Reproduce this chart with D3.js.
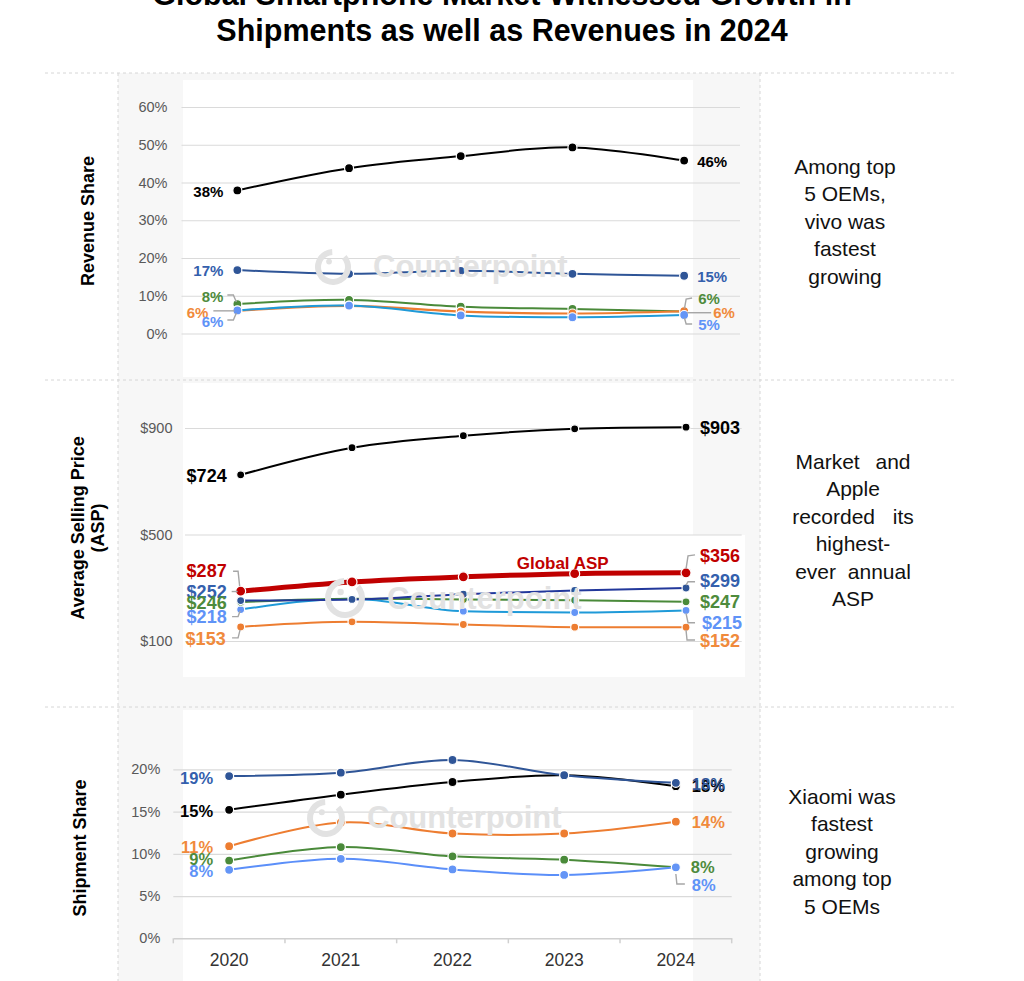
<!DOCTYPE html>
<html><head><meta charset="utf-8">
<script src="https://cdn.jsdelivr.net/npm/d3@7"></script>
<style>
body{margin:0;background:#fff}
svg{display:block;font-family:"Liberation Sans",Arial,sans-serif}
</style>
</head><body>
<svg id="c" width="1024" height="981"></svg>
<script>
// ---------------- DATA ----------------
const years = ["2020","2021","2022","2023","2024"];

// Revenue share (%)
const revApple   = [37.9, 43.8, 47.0, 49.3, 45.8];
const revSamsung = [16.8, 15.8, 16.6, 15.8, 15.3];
const revOppo    = [7.8, 8.9, 7.1, 6.5, 5.8];
const revXiaomi  = [6.0, 7.3, 5.8, 5.3, 5.9];
const revVivo    = [6.1, 7.4, 4.8, 4.3, 4.9];
const revTicks   = [0, 10, 20, 30, 40, 50, 60];

// Average selling price (US$)
const aspApple   = [724, 826, 871, 897, 903];
const aspGlobal  = [287, 322, 341, 353, 356];
const aspSamsung = [252, 256, 276, 290, 299];
const aspOppo    = [246, 259, 256, 253, 247];
const aspVivo    = [218, 259, 212, 207, 215];
const aspXiaomi  = [153, 172, 162, 152, 152];
const aspTicks   = [100, 500, 900];

// Shipment share (%)
const shpSamsung = [19.2, 19.6, 21.1, 19.3, 18.4];
const shpApple   = [15.2, 17.0, 18.5, 19.3, 18.0];
const shpXiaomi  = [10.9, 13.7, 12.4, 12.4, 13.8];
const shpOppo    = [9.2, 10.8, 9.7, 9.3, 8.4];
const shpVivo    = [8.1, 9.4, 8.15, 7.5, 8.4];
const shpTicks   = [0, 5, 10, 15, 20];

// Text
const titleLines = ["Global Smartphone Market Witnessed Growth in", "Shipments as well as Revenues in 2024"];
const revNote = ["Among top", "5 OEMs,", "vivo was", "fastest", "growing"];
const aspNote = ["Market and", "Apple", "recorded its", "highest-", "ever annual", "ASP"];
const shpNote = ["Xiaomi was", "fastest", "growing", "among top", "5 OEMs"];

// ---------------- STYLE ----------------
const COL = {
  apple:"#000000", samsung:"#2f5597", samsungAspLine:"#22389b", oppo:"#4a8a3a",
  xiaomi:"#ed7d31", vivo:"#6495f6", vivoLine:"#1f9ad8", vivoShpLine:"#5b8ff9", global:"#c00000",
  samsungLbl:"#3460ad", oppoLbl:"#4e8b3c", xiaomiLbl:"#f08a3c", vivoLbl:"#5f93f7",
  grid:"#dadada", tick:"#595959", lead:"#a6a6a6", wm:"#e2e2e2", panel:"#f7f7f7", sep:"#d6d6d6"
};

const svg = d3.select("#c");

// ---------------- BACKGROUND ----------------
svg.append("rect").attr("x",118).attr("y",73).attr("width",642).attr("height",908).attr("fill",COL.panel);
svg.append("rect").attr("x",183).attr("y",80).attr("width",510).attr("height",297).attr("fill","#fff");
svg.append("rect").attr("x",183).attr("y",383).attr("width",510).attr("height",294).attr("fill","#fff");
svg.append("rect").attr("x",693).attr("y",535).attr("width",52).attr("height",142).attr("fill","#fff");
svg.append("rect").attr("x",183).attr("y",710).attr("width",510).attr("height",271).attr("fill","#fff");

[73,380,707].forEach(yy=>{
  svg.append("line").attr("x1",45).attr("x2",955).attr("y1",yy).attr("y2",yy)
    .attr("stroke",COL.sep).attr("stroke-dasharray","3,3");
});
[118,760].forEach(xx=>{
  svg.append("line").attr("x1",xx).attr("x2",xx).attr("y1",73).attr("y2",981)
    .attr("stroke",COL.sep).attr("stroke-dasharray","3,3");
});

// ---------------- TITLE ----------------
svg.append("g").selectAll("text").data(titleLines).join("text")
  .attr("x",502).attr("y",(d,i)=>5+i*35.5).attr("text-anchor","middle")
  .attr("font-size",30.5).attr("font-weight","bold").attr("fill","#000").text(d=>d);

// ---------------- HELPERS ----------------
function watermark(cx, cy, r, fs){
  const g = svg.append("g").attr("transform",`translate(${cx},${cy})`);
  g.append("path").attr("d", d3.arc()({innerRadius:r-6,outerRadius:r,startAngle:0.85,endAngle:Math.PI*2-0.05}))
    .attr("fill",COL.wm);
  g.append("circle").attr("cx",-r*0.22).attr("cy",-r*0.3).attr("r",r*0.16).attr("fill",COL.wm);
  g.append("text").attr("x",r+22).attr("y",r*0.55).attr("font-size",fs).attr("font-weight","bold")
    .attr("fill",COL.wm).text("Counterpoint");
}

function yAxis(g, y, x0, x1, ticks, fmt, pad){
  const ax = d3.axisLeft(y).tickValues(ticks).tickSize(-(x1-x0)).tickPadding(pad).tickFormat(fmt);
  const gg = g.append("g").attr("transform",`translate(${x0},0)`).call(ax);
  gg.select(".domain").remove();
  gg.selectAll(".tick line").attr("stroke",COL.grid).attr("stroke-width",1.2);
  gg.selectAll(".tick text").attr("fill",COL.tick).attr("font-size",14.5)
    .attr("font-family",'"Liberation Sans",Arial,sans-serif');
}

function series(g, x, y, vals, lineColor, markColor, lw, r, curve){
  const cx = d => x(d) + x.bandwidth()/2;
  const line = d3.line().x((d,i)=>cx(years[i])).y(d=>y(d)).curve(curve);
  g.append("path").datum(vals).attr("d",line).attr("fill","none")
    .attr("stroke",lineColor).attr("stroke-width",lw).attr("stroke-linejoin","round");
  g.selectAll(null).data(vals).join("circle")
    .attr("cx",(d,i)=>cx(years[i])).attr("cy",d=>y(d)).attr("r",r)
    .attr("fill",markColor).attr("stroke","#fff").attr("stroke-width",1.2);
}

function label(g, x, y, year, val, text, color, side, dx, dy, fs){
  const cx = x(year) + x.bandwidth()/2;
  g.append("text").attr("x", cx + dx).attr("y", y(val) + dy)
    .attr("text-anchor", side==="L" ? "end" : "start").attr("dy","0.36em")
    .attr("font-size",fs).attr("font-weight","bold").attr("fill",color).text(text);
}

function leader(g, x, y, year, val, pts){
  const cx = x(year) + x.bandwidth()/2, cy = y(val);
  g.append("path").attr("d", d3.line()(pts.map(p=>[cx+p[0], cy+p[1]])))
    .attr("fill","none").attr("stroke",COL.lead).attr("stroke-width",1.4);
}

function note(lines, cx, cy0, spacing, wordSp){
  svg.append("g").selectAll("text").data(lines).join("text")
    .attr("x",cx).attr("y",(d,i)=>cy0+i*spacing).attr("dy","0.36em").attr("text-anchor","middle")
    .attr("font-size",21).attr("fill","#111")
    .attr("word-spacing",(d,i)=> wordSp ? wordSp[i] : 0).text(d=>d);
}

function axisTitle(lines, cx, cy){
  const g = svg.append("g").attr("transform",`translate(${cx},${cy}) rotate(-90)`);
  g.selectAll("text").data(lines).join("text")
    .attr("x",0).attr("y",(d,i)=> (i-(lines.length-1)/2)*20).attr("dy","0.36em")
    .attr("text-anchor","middle").attr("font-size",18).attr("font-weight","bold").attr("fill","#000").text(d=>d);
}

const smooth = d3.curveCatmullRom.alpha(0.5);

// ---------------- REVENUE PANEL ----------------
{
  const g = svg.append("g");
  const x = d3.scaleBand(years,[181.5,740]);
  const y = d3.scaleLinear([0,60],[333.5,107]);
  yAxis(g, y, 181.5, 740, revTicks, d=>d+"%", 14);
  watermark(333, 267, 18, 31);
  series(g,x,y,revApple,COL.apple,COL.apple,2,4.5,smooth);
  series(g,x,y,revSamsung,COL.samsung,COL.samsung,2,4.5,smooth);
  series(g,x,y,revOppo,COL.oppo,COL.oppo,2,4.5,smooth);
  series(g,x,y,revXiaomi,COL.xiaomi,COL.xiaomi,2.2,4.5,smooth);
  series(g,x,y,revVivo,COL.vivoLine,COL.vivo,2,4.5,smooth);
  const L = years[0], R = years[4], fs = 15;
  label(g,x,y,L,revApple[0],"38%",COL.apple,"L",-14,1,fs);
  label(g,x,y,L,revSamsung[0],"17%",COL.samsungLbl,"L",-14,1,fs);
  label(g,x,y,L,revOppo[0],"8%",COL.oppoLbl,"L",-14,-7,fs);
  label(g,x,y,L,revXiaomi[0],"6%",COL.xiaomiLbl,"L",-29,2,fs);
  label(g,x,y,L,revVivo[0],"6%",COL.vivoLbl,"L",-14,11.6,fs);
  leader(g,x,y,L,revOppo[0],[[-10,-9],[-4,-9],[-1,-2]]);
  leader(g,x,y,L,revXiaomi[0],[[-24,0],[-3,0]]);
  leader(g,x,y,L,revVivo[0],[[-10,9.6],[-4,9.6],[-1,2.6]]);
  label(g,x,y,R,revApple[4],"46%",COL.apple,"R",13,1.3,fs);
  label(g,x,y,R,revSamsung[4],"15%",COL.samsungLbl,"R",13,1,fs);
  label(g,x,y,R,revOppo[4],"6%",COL.oppoLbl,"R",14,-12.6,fs);
  label(g,x,y,R,revXiaomi[4],"6%",COL.xiaomiLbl,"R",29,1.5,fs);
  label(g,x,y,R,revVivo[4],"5%",COL.vivoLbl,"R",14,10,fs);
  leader(g,x,y,R,revOppo[4],[[8,-13.6],[2,-12.6],[0.3,-3]]);
  leader(g,x,y,R,revXiaomi[4],[[3,1.5],[27,1.5]]);
  leader(g,x,y,R,revVivo[4],[[0.3,3],[2,9],[8,9]]);
}

// ---------------- ASP PANEL ----------------
{
  const g = svg.append("g");
  const x = d3.scaleBand(years,[185,741.7]);
  const y = d3.scaleLinear([100,900],[641,428]);
  yAxis(g, y, 185, 741.7, aspTicks, d=>"$"+d, 12.5);
  watermark(345, 598, 20, 31);
  const mono = d3.curveMonotoneX;
  series(g,x,y,aspApple,COL.apple,COL.apple,2,4,smooth);
  series(g,x,y,aspXiaomi,COL.xiaomi,COL.xiaomi,2,4,mono);
  series(g,x,y,aspVivo,COL.vivoLine,COL.vivo,2,4,mono);
  series(g,x,y,aspOppo,COL.oppo,COL.oppo,2,4,mono);
  series(g,x,y,aspSamsung,COL.samsungAspLine,COL.samsung,2,4,mono);
  series(g,x,y,aspGlobal,COL.global,COL.global,5,5,smooth);
  const L = years[0], R = years[4], fs = 18;
  label(g,x,y,L,aspApple[0],"$724",COL.apple,"L",-14,1,fs);
  label(g,x,y,L,aspGlobal[0],"$287",COL.global,"L",-14,-21,fs);
  label(g,x,y,L,aspSamsung[0],"$252",COL.samsungLbl,"L",-14,-9,fs);
  label(g,x,y,L,aspOppo[0],"$246",COL.oppoLbl,"L",-14,0,fs);
  label(g,x,y,L,aspVivo[0],"$218",COL.vivoLbl,"L",-14,7,fs);
  label(g,x,y,L,aspXiaomi[0],"$153",COL.xiaomiLbl,"L",-15,11.4,fs);
  leader(g,x,y,L,aspGlobal[0],[[-7.6,-20],[-2.6,-20],[-1,-5]]);
  leader(g,x,y,L,aspSamsung[0],[[-9,-9],[-3,-9]]);
  leader(g,x,y,L,aspVivo[0],[[-8.6,7],[-2.6,7],[-0.6,1.5]]);
  leader(g,x,y,L,aspXiaomi[0],[[-8.6,11],[-2.6,11],[-0.6,3]]);
  label(g,x,y,R,aspApple[4],"$903",COL.apple,"R",14,0.5,fs);
  label(g,x,y,R,aspGlobal[4],"$356",COL.global,"R",14,-17,fs);
  label(g,x,y,R,aspSamsung[4],"$299",COL.samsungLbl,"R",14,-7,fs);
  label(g,x,y,R,aspOppo[4],"$247",COL.oppoLbl,"R",14,0,fs);
  label(g,x,y,R,aspVivo[4],"$215",COL.vivoLbl,"R",16,12,fs);
  label(g,x,y,R,aspXiaomi[4],"$152",COL.xiaomiLbl,"R",14,13.5,fs);
  leader(g,x,y,R,aspGlobal[4],[[0,-4],[2,-17],[9,-18]]);
  leader(g,x,y,R,aspSamsung[4],[[0,-3],[2,-6.3],[9,-6.3]]);
  leader(g,x,y,R,aspVivo[4],[[0,3],[2,12.3],[9,12.3]]);
  leader(g,x,y,R,aspXiaomi[4],[[0,3],[1,12.8],[9,12.8]]);
  g.append("text").attr("x", x(years[3]) + x.bandwidth()/2 - 12).attr("y", y(aspGlobal[3]) - 11)
    .attr("dy","0.36em").attr("text-anchor","middle").attr("font-size",17).attr("font-weight","bold")
    .attr("fill",COL.global).text("Global ASP");
}

// ---------------- SHIPMENT PANEL ----------------
{
  const g = svg.append("g");
  const x = d3.scaleBand(years,[173.3,731.7]);
  const y = d3.scaleLinear([0,20],[938.3,769.3]);
  yAxis(g, y, 173.3, 731.7, shpTicks.slice(1), d=>d+"%", 13);
  // 0% label without gridline (axis line replaces it)
  const xa = d3.axisBottom(x).tickSize(0).tickPadding(15.6);
  const ga = g.append("g").attr("transform",`translate(0,${y(0)})`).call(xa);
  ga.select(".domain").attr("stroke","#d0d0d0").attr("stroke-width",1.5);
  ga.selectAll(".tick text").attr("font-size",17.5).attr("fill","#333")
    .attr("font-family",'"Liberation Sans",Arial,sans-serif');
  const bounds = years.map(d=>x(d)).concat([x.range()[1]]);
  ga.selectAll("line.bnd").data(bounds).join("line").attr("class","bnd")
    .attr("x1",d=>d).attr("x2",d=>d).attr("y1",0).attr("y2",5).attr("stroke","#d0d0d0").attr("stroke-width",1.5);
  const z = d3.axisLeft(y).tickValues([0]).tickSize(0).tickPadding(13).tickFormat(d=>d+"%");
  const gz = g.append("g").attr("transform","translate(173.3,0)").call(z);
  gz.select(".domain").remove();
  gz.selectAll(".tick text").attr("fill",COL.tick).attr("font-size",14.5)
    .attr("font-family",'"Liberation Sans",Arial,sans-serif');

  watermark(326, 818, 19, 31);
  series(g,x,y,shpApple,COL.apple,COL.apple,2,4.5,smooth);
  series(g,x,y,shpSamsung,COL.samsung,COL.samsung,2,4.5,smooth);
  series(g,x,y,shpXiaomi,COL.xiaomi,COL.xiaomi,2,4.5,smooth);
  series(g,x,y,shpOppo,COL.oppo,COL.oppo,2,4.5,smooth);
  series(g,x,y,shpVivo,COL.vivoShpLine,COL.vivo,2,4.5,smooth);
  const L = years[0], R = years[4], fs = 16.5;
  label(g,x,y,L,shpSamsung[0],"19%",COL.samsungLbl,"L",-16,1.6,fs);
  label(g,x,y,L,shpApple[0],"15%",COL.apple,"L",-16,1,fs);
  label(g,x,y,L,shpXiaomi[0],"11%",COL.xiaomiLbl,"L",-16,0.5,fs);
  label(g,x,y,L,shpOppo[0],"9%",COL.oppoLbl,"L",-16,-1.6,fs);
  label(g,x,y,L,shpVivo[0],"8%",COL.vivoLbl,"L",-16,1,fs);
  label(g,x,y,R,shpApple[4],"18%",COL.apple,"R",16,0,fs);
  label(g,x,y,R,shpSamsung[4],"18%",COL.samsung,"R",16,1.5,fs);
  label(g,x,y,R,shpXiaomi[4],"14%",COL.xiaomiLbl,"R",16,0,fs);
  label(g,x,y,R,shpOppo[4],"8%",COL.oppoLbl,"R",15,0,fs);
  label(g,x,y,R,shpVivo[4],"8%",COL.vivoLbl,"R",16,18,fs);
  leader(g,x,y,R,shpVivo[4],[[0,6.7],[1,16.7],[9,16.7]]);
}

// ---------------- SIDE TEXTS ----------------
axisTitle(["Revenue Share"], 88, 221);
axisTitle(["Average Selling Price","(ASP)"], 88, 528);
axisTitle(["Shipment Share"], 80, 848);

note(revNote, 845, 166, 27.5, null);
note(aspNote, 853, 461, 27.5, [10,0,12,0,6,0]);
note(shpNote, 842, 796, 27.5, null);
</script>
</body></html>
